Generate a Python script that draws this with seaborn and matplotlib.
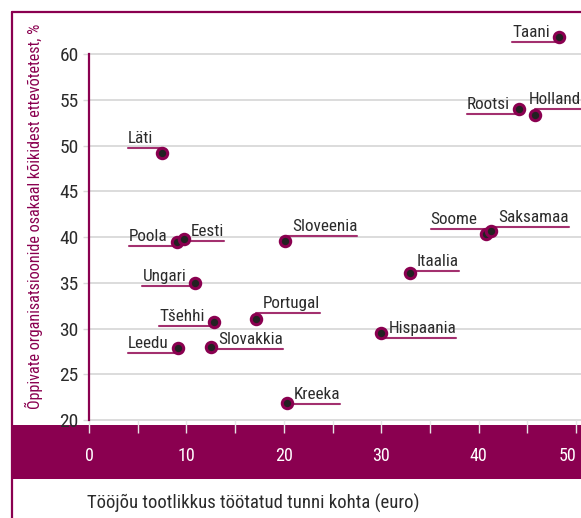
import matplotlib
matplotlib.use("Agg")
import matplotlib.pyplot as plt
from matplotlib.lines import Line2D
from matplotlib.patches import Rectangle
import seaborn as sns
import pandas as pd

# --------------------------- DATA ---------------------------
countries = ["Taani", "Rootsi", "Holland", "Läti", "Poola", "Eesti", "Sloveenia",
             "Soome", "Saksamaa", "Itaalia", "Ungari", "Tšehhi", "Portugal",
             "Leedu", "Slovakkia", "Hispaania", "Kreeka"]
productivity = [48.2, 44.1, 45.8, 7.5, 9.0, 9.75, 20.1,
                40.8, 41.3, 32.9, 10.9, 12.8, 17.1,
                9.1, 12.5, 30.0, 20.3]
learning_share = [61.9, 54.0, 53.3, 49.2, 39.45, 39.8, 39.6,
                  40.3, 40.65, 36.1, 35.0, 30.7, 31.0,
                  27.9, 28.0, 29.5, 21.85]
x_ticks = [0, 10, 20, 30, 40, 50]
y_ticks = [20, 25, 30, 35, 40, 45, 50, 55, 60]

# label placement: side of the point and underline shift (px, down = +)
label_side = ["L", "L", "R", "L", "L", "R", "R",
              "L", "R", "R", "L", "L", "R",
              "L", "R", "R", "R"]
label_dy = [5, 5, -6, -5, 4, 2, -5,
            -5, -4, -2, 3, 4, -6,
            5, 2, 5, 1]
label_gap = {"Holland": -6}   # text sits over the marker here

df = pd.DataFrame({"country": countries, "x": productivity, "y": learning_share})

# --------------------------- STYLE ---------------------------
PURPLE = "#8a0050"
LINE_PURPLE = "#a3306f"
DARK = "#2b2b2b"
sns.set_style("white")
plt.rcParams["font.family"] = ["Roboto Condensed", "DejaVu Sans"]

W, H = 581, 518
fig = plt.figure(figsize=(W / 100, H / 100), dpi=100)
ax = fig.add_axes([89 / W, (H - 420) / H, (W - 89) / W, (420 - 12) / H])
ax.set_xlim(0, 50.5)
ax.set_ylim(20, 64.6)

# ----------------------- GRID & AXES ------------------------
for yv in y_ticks:
    ax.axhline(yv, color="#d9d9d9", lw=1.3, zorder=0, clip_on=False)
for s in ["top", "right", "bottom"]:
    ax.spines[s].set_visible(False)
ax.spines["left"].set_bounds(20, 60)
ax.spines["left"].set_color(PURPLE)
ax.spines["left"].set_linewidth(1.6)

ax.set_yticks(y_ticks)
ax.set_yticklabels([str(v) for v in y_ticks], fontsize=14, color=DARK)
ax.tick_params(axis="y", length=4.5, width=1, color="#d9d9d9", pad=3, left=True)

ax.set_xticks(range(0, 51, 5))
ax.set_xticklabels([str(v) if v in x_ticks else "" for v in range(0, 51, 5)],
                   fontsize=13, color="white")
ax.tick_params(axis="x", length=9.5, width=1, color="#e6e6e6", pad=10, bottom=True)
# last label would run off the right edge
ax.get_xticklabels()[-1].set_ha("right")
ax.get_xticklabels()[-1].set_x(ax.get_xticklabels()[-1].get_position()[0])

# -------------------------- POINTS --------------------------
sns.scatterplot(data=df, x="x", y="y", ax=ax, s=56, color="#222222",
                edgecolor=PURPLE, linewidth=2.2, zorder=4, clip_on=False, legend=False)
ax.set_xlabel("")
ax.set_ylabel("")

# -------------------------- LABELS --------------------------
texts = []
for i, row in df.iterrows():
    dy = label_dy[i]
    if label_side[i] == "L":
        gap = label_gap.get(row["country"], 9)
        t = ax.annotate(row["country"], (row["x"], row["y"]), xytext=(-gap * 0.72, (-dy + 2) * 0.72),
                        textcoords="offset points", ha="right", va="bottom",
                        fontsize=12.3, color=DARK, zorder=5, annotation_clip=False)
    else:
        gap = label_gap.get(row["country"], 7)
        t = ax.annotate(row["country"], (row["x"], row["y"]), xytext=(gap * 0.72, (-dy + 2) * 0.72),
                        textcoords="offset points", ha="left", va="bottom",
                        fontsize=12.3, color=DARK, zorder=5, annotation_clip=False)
    texts.append(t)

fig.canvas.draw()
renderer = fig.canvas.get_renderer()
inv = ax.transData.inverted()
for i, row in df.iterrows():
    bb = texts[i].get_window_extent(renderer)
    px, py = ax.transData.transform((row["x"], row["y"]))
    ly = py - label_dy[i]
    if label_side[i] == "L":
        x0, x1 = bb.x0, px
    else:
        x0, x1 = px, bb.x1
    (dx0, dy0), (dx1, dy1) = inv.transform([(x0, ly), (x1, ly)])
    ax.add_line(Line2D([dx0, dx1], [dy0, dy1], color=LINE_PURPLE, lw=1.5,
                       zorder=3, clip_on=False))

# ---------------------- FRAME & BAND ------------------------
fig.add_artist(Rectangle((12 / W, (H - 479) / H), (W - 12) / W, 54 / H,
                         transform=fig.transFigure, facecolor=PURPLE,
                         edgecolor="none", zorder=-1))
fig.add_artist(Line2D([12 / W, 12 / W], [0, (H - 12) / H], transform=fig.transFigure,
                      color=PURPLE, lw=1.6))
fig.add_artist(Line2D([12 / W, 1], [(H - 12) / H, (H - 12) / H], transform=fig.transFigure,
                      color=PURPLE, lw=1.6))

fig.text(253 / W, (H - 503) / H, "Tööjõu tootlikkus töötatud tunni kohta (euro)",
         ha="center", va="center", fontsize=13.5, color=DARK)
fig.text(34 / W, (H - 216) / H, "Õppivate organisatsioonide osakaal kõikidest ettevõtetest, %",
         ha="center", va="center", rotation=90, fontsize=11.6, color=PURPLE)

fig.savefig("out.png", dpi=100)
plt.close()
